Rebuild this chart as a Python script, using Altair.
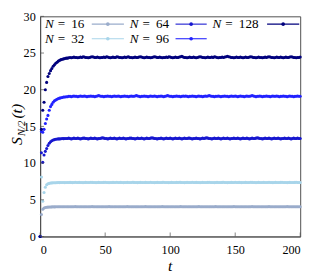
import altair as alt
import pandas as pd

SIZES = [16, 32, 64, 96, 128]
COLORS = ["#9aaccb", "#a8d5ea", "#1717cf", "#2222ff", "#00007d"]
X_TICKS = [0, 50, 100, 150, 200]
Y_TICKS = [0, 5, 10, 15, 20, 25, 30]
T = list(range(0, 201))

S16_EARLY = [0, 3.0, 3.7, 3.88, 3.95, 3.98, 4.0, 4.02, 4.02, 4.03, 4.04,
             4.03, 4.05, 4.04, 4.05, 4.06, 4.05, 4.04, 4.05, 4.06, 4.05]
S16_PLATEAU = """
4.05 4.06 4.05 4.04 4.05 4.06 4.07 4.06 4.05 4.04
4.05 4.06 4.05 4.05 4.04 4.05 4.06 4.05 4.06 4.07
4.06 4.05 4.04 4.05 4.05 4.06 4.05 4.04 4.05 4.06
4.05 4.06 4.07 4.06 4.05 4.05 4.04 4.05 4.06 4.05
4.04 4.05 4.06 4.05 4.05 4.06 4.07 4.06 4.05 4.04
4.05 4.05 4.06 4.05 4.04 4.05 4.06 4.05 4.05 4.06
4.07 4.06 4.05 4.04 4.05 4.06 4.05 4.05 4.04 4.05
4.06 4.05 4.06 4.07 4.06 4.05 4.05 4.04 4.05 4.06
4.05 4.04 4.05 4.06 4.05 4.05 4.06 4.07 4.06 4.05
4.04 4.05 4.05 4.06 4.05 4.04 4.05 4.06 4.05 4.05
4.06 4.07 4.06 4.05 4.04 4.05 4.06 4.05 4.05 4.04
4.05 4.06 4.05 4.06 4.07 4.06 4.05 4.05 4.04 4.05
4.06 4.05 4.04 4.05 4.06 4.05 4.05 4.06 4.07 4.06
4.05 4.04 4.05 4.05 4.06 4.05 4.04 4.05 4.06 4.05
4.05 4.06 4.07 4.06 4.05 4.04 4.05 4.06 4.05 4.05
4.04 4.05 4.06 4.05 4.06 4.07 4.06 4.05 4.05 4.04
4.05 4.06 4.05 4.04 4.05 4.06 4.05 4.05 4.06 4.07
4.06 4.05 4.04 4.05 4.06 4.05 4.05 4.04 4.05 4.06
"""

S32_EARLY = [0, 8.1, 4.8, 6.0, 6.7, 7.05, 7.18, 7.24, 7.28, 7.3, 7.31,
             7.32, 7.33, 7.34, 7.35, 7.34, 7.35, 7.36, 7.35, 7.34, 7.35]
S32_PLATEAU = """
7.36 7.35 7.37 7.36 7.34 7.36 7.38 7.36 7.35 7.37
7.36 7.35 7.34 7.36 7.37 7.36 7.35 7.36 7.38 7.37
7.35 7.36 7.34 7.35 7.37 7.36 7.36 7.35 7.37 7.38
7.36 7.35 7.34 7.36 7.36 7.37 7.35 7.36 7.38 7.36
7.35 7.37 7.36 7.34 7.35 7.36 7.37 7.36 7.35 7.36
7.38 7.37 7.36 7.35 7.34 7.36 7.37 7.36 7.35 7.36
7.37 7.36 7.35 7.36 7.38 7.36 7.35 7.34 7.36 7.37
7.36 7.35 7.36 7.37 7.38 7.36 7.35 7.36 7.34 7.35
7.37 7.36 7.35 7.36 7.37 7.36 7.38 7.37 7.35 7.36
7.34 7.36 7.37 7.36 7.35 7.36 7.38 7.36 7.35 7.37
7.36 7.35 7.34 7.36 7.37 7.36 7.35 7.36 7.37 7.38
7.36 7.35 7.36 7.34 7.35 7.37 7.36 7.36 7.35 7.37
7.38 7.36 7.35 7.34 7.36 7.36 7.37 7.35 7.36 7.38
7.36 7.35 7.37 7.36 7.34 7.35 7.36 7.37 7.36 7.35
7.36 7.38 7.37 7.36 7.35 7.34 7.36 7.37 7.36 7.35
7.36 7.37 7.36 7.35 7.36 7.38 7.36 7.35 7.34 7.36
7.37 7.36 7.35 7.36 7.37 7.38 7.36 7.35 7.36 7.34
7.35 7.37 7.36 7.36 7.35 7.37 7.38 7.36 7.35 7.36
"""

S64_EARLY = [0, 11.4, 10.1, 11.1, 11.6, 12.0, 12.4, 12.7, 12.9, 13.05, 13.15,
             13.2, 13.25, 13.28, 13.3, 13.3, 13.32, 13.35, 13.33, 13.35, 13.35]
S64_PLATEAU = """
13.35 13.4 13.35 13.3 13.35 13.4 13.35 13.35 13.4 13.35
13.3 13.35 13.4 13.4 13.35 13.35 13.3 13.35 13.4 13.35
13.35 13.4 13.35 13.3 13.35 13.35 13.4 13.45 13.4 13.35
13.35 13.3 13.35 13.4 13.35 13.35 13.4 13.35 13.3 13.35
13.4 13.35 13.35 13.4 13.35 13.3 13.35 13.35 13.4 13.4
13.35 13.35 13.3 13.35 13.4 13.35 13.35 13.4 13.35 13.3
13.35 13.4 13.35 13.35 13.4 13.45 13.4 13.35 13.35 13.3
13.35 13.35 13.4 13.35 13.3 13.35 13.4 13.35 13.35 13.4
13.35 13.3 13.35 13.4 13.35 13.35 13.4 13.35 13.3 13.35
13.4 13.35 13.35 13.4 13.4 13.35 13.3 13.35 13.35 13.4
13.35 13.35 13.3 13.35 13.4 13.35 13.4 13.45 13.4 13.35
13.35 13.3 13.35 13.4 13.35 13.35 13.4 13.35 13.3 13.35
13.4 13.35 13.35 13.4 13.35 13.3 13.35 13.35 13.4 13.35
13.35 13.4 13.35 13.3 13.35 13.4 13.35 13.35 13.4 13.35
13.3 13.35 13.4 13.35 13.35 13.4 13.45 13.4 13.35 13.35
13.3 13.35 13.4 13.35 13.35 13.4 13.35 13.3 13.35 13.4
13.35 13.35 13.4 13.35 13.3 13.35 13.35 13.4 13.35 13.35
13.4 13.35 13.3 13.35 13.4 13.35 13.35 13.4 13.35 13.35
"""

S96_EARLY = [0, 14.3, 14.2, 14.6, 15.4, 16.0, 16.5, 17.2, 17.7, 18.0, 18.3,
             18.5, 18.6, 18.7, 18.8, 18.85, 18.9, 18.95, 19.0, 19.0, 19.05]
S96_PLATEAU = """
19.05 19.1 19.1 19.05 19.1 19.15 19.1 19.1 19.05 19.1
19.15 19.1 19.1 19.15 19.1 19.05 19.1 19.1 19.15 19.1
19.1 19.05 19.1 19.15 19.2 19.15 19.1 19.1 19.05 19.1
19.1 19.15 19.1 19.1 19.05 19.1 19.15 19.1 19.1 19.15
19.1 19.05 19.1 19.1 19.15 19.1 19.1 19.05 19.1 19.15
19.1 19.1 19.15 19.2 19.15 19.1 19.05 19.1 19.1 19.15
19.1 19.1 19.05 19.1 19.15 19.1 19.1 19.15 19.1 19.05
19.1 19.1 19.15 19.1 19.05 19.1 19.15 19.2 19.15 19.1
19.1 19.05 19.1 19.1 19.15 19.1 19.1 19.05 19.1 19.15
19.1 19.15 19.1 19.05 19.1 19.1 19.15 19.1 19.1 19.05
19.1 19.15 19.1 19.1 19.05 19.1 19.15 19.1 19.15 19.2
19.15 19.1 19.1 19.05 19.1 19.1 19.15 19.1 19.05 19.1
19.1 19.15 19.1 19.1 19.05 19.1 19.15 19.1 19.1 19.15
19.1 19.05 19.1 19.15 19.1 19.1 19.05 19.1 19.15 19.1
19.1 19.15 19.2 19.15 19.1 19.05 19.1 19.1 19.15 19.1
19.05 19.1 19.1 19.15 19.1 19.1 19.05 19.1 19.15 19.1
19.1 19.15 19.1 19.05 19.1 19.1 19.15 19.1 19.1 19.05
19.1 19.15 19.1 19.1 19.05 19.1 19.1 19.15 19.1 19.1
"""

S128_EARLY = [0, 14.6, 17.2, 18.3, 20.0, 21.0, 21.8, 22.2, 22.6, 22.9, 23.2,
              23.4, 23.6, 23.75, 23.9, 24.0, 24.1, 24.15, 24.2, 24.25, 24.3]
S128_PLATEAU = """
24.3 24.35 24.4 24.35 24.4 24.45 24.4 24.4 24.35 24.4
24.45 24.4 24.5 24.45 24.4 24.4 24.35 24.4 24.45 24.5
24.45 24.4 24.4 24.45 24.4 24.35 24.4 24.4 24.45 24.4
24.5 24.45 24.4 24.35 24.4 24.45 24.4 24.4 24.5 24.45
24.4 24.4 24.35 24.4 24.45 24.4 24.45 24.5 24.4 24.4
24.35 24.4 24.45 24.4 24.4 24.45 24.5 24.45 24.4 24.35
24.4 24.45 24.4 24.4 24.35 24.4 24.45 24.5 24.45 24.4
24.4 24.45 24.4 24.35 24.4 24.4 24.45 24.4 24.5 24.45
24.4 24.35 24.4 24.45 24.4 24.4 24.45 24.5 24.55 24.45
24.4 24.4 24.35 24.4 24.45 24.4 24.4 24.45 24.4 24.35
24.4 24.45 24.5 24.45 24.4 24.4 24.35 24.4 24.45 24.4
24.4 24.45 24.4 24.5 24.45 24.4 24.35 24.4 24.4 24.45
24.4 24.45 24.5 24.55 24.5 24.45 24.4 24.4 24.35 24.4
24.45 24.4 24.4 24.45 24.4 24.35 24.4 24.45 24.4 24.4
24.45 24.5 24.45 24.4 24.4 24.35 24.4 24.45 24.4 24.4
24.35 24.4 24.45 24.4 24.45 24.5 24.45 24.4 24.4 24.35
24.4 24.45 24.4 24.4 24.45 24.4 24.35 24.4 24.45 24.4
24.4 24.45 24.5 24.45 24.4 24.4 24.35 24.4 24.4 24.45
"""


def series(early, plateau):
    vals = list(early) + [float(v) for v in plateau.split()]
    assert len(vals) == len(T), len(vals)
    return vals


SERIES = {
    16: series(S16_EARLY, S16_PLATEAU),
    32: series(S32_EARLY, S32_PLATEAU),
    64: series(S64_EARLY, S64_PLATEAU),
    96: series(S96_EARLY, S96_PLATEAU),
    128: series(S128_EARLY, S128_PLATEAU),
}

rows = []
for n in SIZES:
    for t, s in zip(T, SERIES[n]):
        rows.append({"N": str(n), "t": t, "S": s})
df = pd.DataFrame(rows)

W, H = 267, 226
SERIF = "Liberation Serif"
FRAME = "#4d4d4d"
x_scale = alt.Scale(domain=[0, 200], nice=False, zero=False)
y_scale = alt.Scale(domain=[0, 30], nice=False)
color_scale = alt.Scale(domain=[str(n) for n in SIZES], range=COLORS)
x_axis = alt.Axis(values=X_TICKS, ticks=False, labelPadding=7, title=None)
y_axis = alt.Axis(values=Y_TICKS, ticks=False, labelPadding=5, title=None)

points = alt.Chart(df).mark_circle(size=10, opacity=1).encode(
    x=alt.X("t:Q", scale=x_scale, axis=x_axis),
    y=alt.Y("S:Q", scale=y_scale, axis=y_axis),
    color=alt.Color("N:N", scale=color_scale, legend=None),
)

xticks = alt.Chart(pd.DataFrame({"t": X_TICKS})).mark_tick(
    orient="vertical", size=4, thickness=1, color=FRAME
).encode(x=alt.X("t:Q", scale=x_scale, axis=x_axis), y=alt.value(H - 2))

yticks = alt.Chart(pd.DataFrame({"S": Y_TICKS})).mark_tick(
    orient="horizontal", size=4, thickness=1, color=FRAME
).encode(y=alt.Y("S:Q", scale=y_scale, axis=y_axis), x=alt.value(2))

one = pd.DataFrame({"k": [0]})


def txt(s, x, y, size, italic=False, angle=0, align="left", baseline="middle"):
    kw = dict(font=SERIF, fontSize=size, color="black", align=align,
              baseline=baseline)
    if italic:
        kw["fontStyle"] = "italic"
    if angle:
        kw["angle"] = angle
    return alt.Chart(one).mark_text(**kw).encode(
        x=alt.value(x), y=alt.value(y), text=alt.value(s))


# legend (column-major: 16, 32 | 64, 96 | 128)
TEXT_X = [5, 92, 177]
SYM_X0 = [53, 139, 233]
SYM_X1 = [86, 171, 266]
ROW_Y = [8, 23]
legend_layers = []
for i, n in enumerate(SIZES):
    c, r = divmod(i, 2)
    y = ROW_Y[r]
    legend_layers.append(txt("N", TEXT_X[c], y, 13.5, italic=True))
    legend_layers.append(txt("=", TEXT_X[c] + 13, y, 13.5))
    legend_layers.append(txt(str(n), TEXT_X[c] + 27, y, 13.5))
    legend_layers.append(
        alt.Chart(one).mark_rule(color=COLORS[i], strokeWidth=1.1).encode(
            x=alt.value(SYM_X0[c]), x2=alt.value(SYM_X1[c]), y=alt.value(y)))
    legend_layers.append(
        alt.Chart(one).mark_circle(color=COLORS[i], size=14, opacity=1).encode(
            x=alt.value((SYM_X0[c] + SYM_X1[c]) / 2), y=alt.value(y)))

# axis titles
title_layers = [
    txt("S", -19, 132, 16, italic=True, angle=270, baseline="alphabetic"),
    txt("N/2", -16, 123, 11, italic=True, angle=270, baseline="alphabetic"),
    txt("(t)", -19, 105, 16, italic=True, angle=270, baseline="alphabetic"),
    txt("t", W / 2, 261, 16, italic=True, align="center", baseline="alphabetic"),
]

chart = alt.layer(points, xticks, yticks, *legend_layers, *title_layers).properties(
    width=W, height=H,
    autosize=alt.AutoSizeParams(type="none"),
    padding={"left": 33, "top": 5, "right": 8, "bottom": 36},
).configure_view(stroke=FRAME, strokeWidth=1).configure_axis(
    domainColor=FRAME, domainWidth=1, grid=False,
    labelFont=SERIF, labelFontSize=12.5, labelColor="black",
)

chart.save("out.html", embed_options={"renderer": "svg", "actions": False})
